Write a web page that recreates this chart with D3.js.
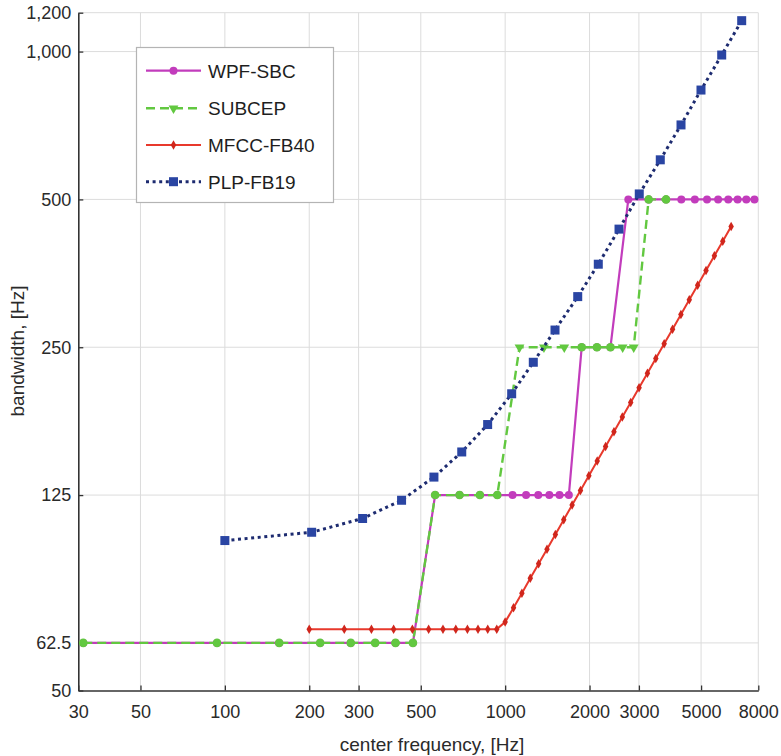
<!DOCTYPE html>
<html>
<head>
<meta charset="utf-8">
<script src="https://cdn.jsdelivr.net/npm/d3@7/dist/d3.min.js"></script>
<style>
  html, body { margin: 0; padding: 0; background: #fff; }
  svg { display: block; }
  text { font-family: "Liberation Sans", Arial, Helvetica, sans-serif; }
</style>
</head>
<body>
<svg id="chart" width="781" height="756"></svg>
<script>
// Filter-bank bandwidth vs. center frequency (Hz), log-log axes.

// Axis ticks
const xTicks = [30, 50, 100, 200, 300, 500, 1000, 2000, 3000, 5000, 8000];
const yTicks = [50, 62.5, 125, 250, 500, 1000, 1200];
const yTickLabels = ["50", "62.5", "125", "250", "500", "1,000", "1,200"];

// WPF-SBC: center frequencies and bandwidths
const wpfFreq = [31.25, 93.75, 156.25, 218.75, 281.25, 343.75, 406.25, 468.75,
  562.5, 687.5, 812.5, 937.5, 1062.5, 1187.5, 1312.5, 1437.5, 1562.5, 1687.5,
  1875, 2125, 2375,
  2750, 3250, 3750, 4250, 4750, 5250, 5750, 6250, 6750, 7250, 7750];
const wpfBw = [62.5, 62.5, 62.5, 62.5, 62.5, 62.5, 62.5, 62.5,
  125, 125, 125, 125, 125, 125, 125, 125, 125, 125,
  250, 250, 250,
  500, 500, 500, 500, 500, 500, 500, 500, 500, 500, 500];

// SUBCEP
const subFreq = [31.25, 93.75, 156.25, 218.75, 281.25, 343.75, 406.25, 468.75,
  562.5, 687.5, 812.5, 937.5,
  1125, 1375, 1625, 1875, 2125, 2375, 2625, 2875,
  3250, 3750];
const subBw = [62.5, 62.5, 62.5, 62.5, 62.5, 62.5, 62.5, 62.5,
  125, 125, 125, 125,
  250, 250, 250, 250, 250, 250, 250, 250,
  500, 500];

// MFCC-FB40
const mfccFreq = [200, 266.67, 333.33, 400, 466.67, 533.33, 600, 666.67, 733.33,
  800, 866.67, 933.33, 1000, 1071.2, 1147.4, 1229.1, 1316.5, 1410.2, 1510.6,
  1618.1, 1733.3, 1856.6, 1988.8, 2130.3, 2281.9, 2444.3, 2618.3, 2804.6,
  3004.2, 3218.1, 3447.1, 3692.4, 3955.2, 4236.7, 4538.2, 4861.2, 5207.2,
  5577.8, 5974.8, 6400.0];
const mfccBw = [66.67, 66.67, 66.67, 66.67, 66.67, 66.67, 66.67, 66.67, 66.67,
  66.67, 66.67, 66.67, 68.9, 73.7, 78.9, 84.6, 90.6, 97.0, 103.9,
  111.3, 119.3, 127.7, 136.8, 146.6, 157.0, 168.2, 180.2, 193.0,
  206.7, 221.4, 237.2, 254.1, 272.1, 291.5, 312.3, 334.5, 358.3,
  383.8, 411.1, 440.4];

// PLP-FB19
const plpFreq = [100, 204, 310, 427, 557, 700, 866, 1055, 1260, 1506,
  1815, 2149, 2548, 3009, 3576, 4240, 4996, 5923, 6980];
const plpBw = [101, 105, 112, 122, 136, 153, 174, 201, 233, 271,
  317, 369, 435, 513, 602, 709, 835, 984, 1156];

const seriesNames = ["WPF-SBC", "SUBCEP", "MFCC-FB40", "PLP-FB19"];

const svg = d3.select("#chart");
const x = d3.scaleLog().domain([30, 8000]).range([78.3, 758.3]);
const y = d3.scaleLog().domain([50, 1200]).range([690.5, 12.7]);

// Grid
const grid = svg.append("g").attr("stroke", "#dcdcdc").attr("stroke-width", 1);
grid.selectAll("line.v").data(xTicks.slice(1)).join("line")
  .attr("x1", d => x(d)).attr("x2", d => x(d))
  .attr("y1", y(50)).attr("y2", y(1200));
grid.selectAll("line.h").data(yTicks.slice(1)).join("line")
  .attr("x1", x(30)).attr("x2", x(8000))
  .attr("y1", d => y(d)).attr("y2", d => y(d));

// Axes
const xAxis = d3.axisBottom(x).tickValues(xTicks).tickFormat(d => String(d))
  .tickSizeInner(-5).tickSizeOuter(0).tickPadding(15);
const yAxis = d3.axisLeft(y).tickValues(yTicks)
  .tickFormat((d, i) => yTickLabels[i])
  .tickSizeInner(-5).tickSizeOuter(0).tickPadding(7);

const gx = svg.append("g").attr("transform", `translate(0,${y(50)})`).call(xAxis);
const gy = svg.append("g").attr("transform", `translate(${x(30)},0)`).call(yAxis);
[gx, gy].forEach(g => {
  g.select(".domain").attr("stroke", "#333").attr("stroke-width", 1.6);
  g.selectAll(".tick line").attr("stroke", "#333").attr("stroke-width", 1.3);
  g.selectAll(".tick text").attr("fill", "#2a2a2a")
    .style("font-size", "18px")
    .style("font-family", "'Liberation Sans', Arial, sans-serif");
});

// Axis titles
svg.append("text").attr("x", 432).attr("y", 751).attr("text-anchor", "middle")
  .attr("fill", "#2a2a2a").style("font-size", "19px").text("center frequency, [Hz]");
svg.append("text").attr("transform", "translate(24,351) rotate(-90)")
  .attr("text-anchor", "middle").attr("fill", "#2a2a2a")
  .style("font-size", "19px").text("bandwidth, [Hz]");

const line = d3.line().x(d => x(d[0])).y(d => y(d[1]));
const zip = (a, b) => a.map((v, i) => [v, b[i]]);

const colors = {
  wpf: "#c23cbc", sub: "#62c840", mfcc: "#e8392c", mfccMark: "#d0261c",
  plpLine: "#1d2b70", plpMark: "#2a45a3"
};

const plot = svg.append("g");

// WPF-SBC
const wpfData = zip(wpfFreq, wpfBw);
plot.append("path").datum(wpfData).attr("d", line).attr("fill", "none")
  .attr("stroke", colors.wpf).attr("stroke-width", 2.2);
plot.selectAll("circle.wpf").data(wpfData).join("circle").attr("class", "wpf")
  .attr("cx", d => x(d[0])).attr("cy", d => y(d[1])).attr("r", 4)
  .attr("fill", colors.wpf);

// SUBCEP (round marker where it shares a center frequency with WPF-SBC)
const subData = zip(subFreq, subBw);
const wpfSet = new Set(wpfFreq);
plot.append("path").datum(subData).attr("d", line).attr("fill", "none")
  .attr("stroke", colors.sub).attr("stroke-width", 2.4)
  .attr("stroke-dasharray", "9,5");
const triDown = d3.symbol().type(d3.symbolTriangle).size(42);
plot.selectAll("path.subm").data(subData).join("path").attr("class", "subm")
  .attr("d", d => wpfSet.has(d[0]) ? d3.symbol().type(d3.symbolCircle).size(58)() : triDown())
  .attr("transform", d => `translate(${x(d[0])},${y(d[1])}) rotate(${wpfSet.has(d[0]) ? 0 : 180})`)
  .attr("fill", colors.sub);

// MFCC-FB40
const mfccData = zip(mfccFreq, mfccBw);
plot.append("path").datum(mfccData).attr("d", line).attr("fill", "none")
  .attr("stroke", colors.mfcc).attr("stroke-width", 2);
const diamond = d3.symbol().type(d3.symbolDiamond).size(26);
plot.selectAll("path.mfccm").data(mfccData).join("path").attr("class", "mfccm")
  .attr("d", diamond).attr("transform", d => `translate(${x(d[0])},${y(d[1])})`)
  .attr("fill", colors.mfccMark);

// PLP-FB19
const plpData = zip(plpFreq, plpBw);
plot.append("path").datum(plpData).attr("d", line).attr("fill", "none")
  .attr("stroke", colors.plpLine).attr("stroke-width", 3)
  .attr("stroke-dasharray", "3,3.6");
plot.selectAll("rect.plpm").data(plpData).join("rect").attr("class", "plpm")
  .attr("x", d => x(d[0]) - 4.5).attr("y", d => y(d[1]) - 4.5)
  .attr("width", 9).attr("height", 9).attr("fill", colors.plpMark);

// Legend
const lg = svg.append("g");
lg.append("rect").attr("x", 136.5).attr("y", 47.5).attr("width", 197).attr("height", 155)
  .attr("fill", "#fff").attr("stroke", "#b4b4b4").attr("stroke-width", 1.2);
const rowY = [70.7, 108.3, 145, 181.7];
const lx1 = 146, lx2 = 201, lmid = 173.5;
const styles = [
  { stroke: colors.wpf, w: 2.2, dash: null },
  { stroke: colors.sub, w: 2.4, dash: "9,5" },
  { stroke: colors.mfcc, w: 2, dash: null },
  { stroke: colors.plpLine, w: 3, dash: "3,3.6" }
];
seriesNames.forEach((name, i) => {
  const yy = rowY[i];
  const s = styles[i];
  const l = lg.append("line").attr("x1", lx1).attr("x2", lx2).attr("y1", yy).attr("y2", yy)
    .attr("stroke", s.stroke).attr("stroke-width", s.w);
  if (s.dash) l.attr("stroke-dasharray", s.dash);
  if (i === 0) lg.append("circle").attr("cx", lmid).attr("cy", yy).attr("r", 4).attr("fill", colors.wpf);
  if (i === 1) lg.append("path").attr("d", triDown()).attr("transform", `translate(${lmid},${yy}) rotate(180)`).attr("fill", colors.sub);
  if (i === 2) lg.append("path").attr("d", diamond()).attr("transform", `translate(${lmid},${yy})`).attr("fill", colors.mfccMark);
  if (i === 3) lg.append("rect").attr("x", lmid - 4.5).attr("y", yy - 4.5).attr("width", 9).attr("height", 9).attr("fill", colors.plpMark);
  lg.append("text").attr("x", 208).attr("y", yy + 6.8).attr("fill", "#1e1e1e")
    .style("font-size", "19px").text(name);
});
</script>
</body>
</html>
